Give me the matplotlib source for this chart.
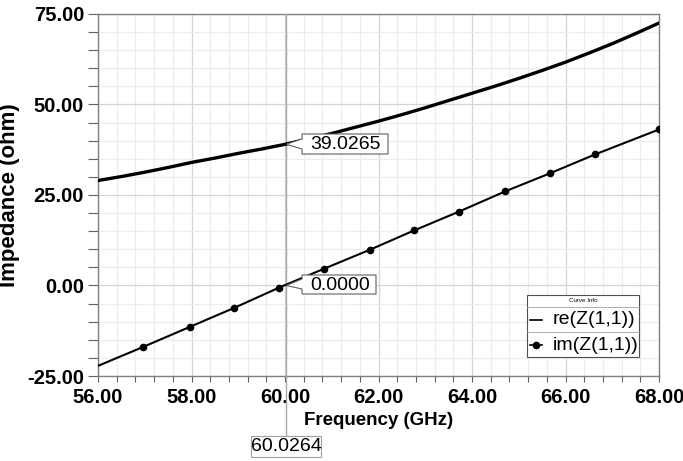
import matplotlib
matplotlib.use("Agg")
import matplotlib.pyplot as plt
from matplotlib.ticker import MultipleLocator, FormatStrFormatter
from matplotlib.patches import Polygon, Rectangle
from matplotlib.lines import Line2D

# Impedance sweep of port 1
freq_re = [56.0, 56.5, 57.0, 57.5, 58.0, 58.5, 59.0, 59.5, 60.0, 60.5, 61.0, 61.5, 62.0,
           62.5, 63.0, 63.5, 64.0, 64.5, 65.0, 65.5, 66.0, 66.5, 67.0, 67.5, 68.0]
re_z11 = [29.0, 30.1, 31.3, 32.6, 34.0, 35.2, 36.5, 37.7, 39.0, 40.5, 42.0, 43.7, 45.4,
          47.2, 49.1, 51.1, 53.1, 55.1, 57.2, 59.4, 61.7, 64.2, 66.8, 69.6, 72.5]

freq_im = [56.0, 56.96, 57.97, 58.91, 59.87, 60.83, 61.82, 62.76, 63.72, 64.71, 65.67, 66.63, 68.0]
im_z11 = [-22.2, -17.0, -11.4, -6.2, -0.6, 4.6, 9.9, 15.2, 20.4, 26.0, 31.0, 36.2, 43.1]

curve_names = ["re(Z(1,1))", "im(Z(1,1))"]

marker_freq = 60.0264
marker_re = 39.0265
marker_im = 0.0000

plt.rcParams["font.family"] = ["Liberation Sans", "DejaVu Sans"]

W, H = 683, 461
fig = plt.figure(figsize=(W / 100, H / 100), dpi=100)
ax = fig.add_axes([98 / W, 1 - 376 / H, 561 / W, 362 / H])


def fpos(x, y):
    """Figure fraction from pixel position measured from the top-left."""
    return x / W, 1 - y / H


ax.plot(freq_re, re_z11, color="black", lw=2.4, zorder=4)
ax.plot(freq_im, im_z11, color="black", lw=1.5, marker="o", ms=4.5,
        markevery=list(range(1, len(freq_im))), zorder=4)

ax.set_xlim(56, 68)
ax.set_ylim(-25, 75)
ax.xaxis.set_major_locator(MultipleLocator(2))
ax.xaxis.set_minor_locator(MultipleLocator(0.4))
ax.yaxis.set_major_locator(MultipleLocator(25))
ax.yaxis.set_minor_locator(MultipleLocator(5))
ax.xaxis.set_major_formatter(FormatStrFormatter("%.2f"))
ax.yaxis.set_major_formatter(FormatStrFormatter("%.2f"))

ax.grid(which="major", color="#d4d4d4", lw=0.9)
ax.grid(which="minor", color="#ececec", lw=0.8)
ax.set_axisbelow(True)

for s in ax.spines.values():
    s.set_color("#808080")
    s.set_linewidth(1.0)

ax.tick_params(axis="y", which="both", direction="out", length=7, width=0.8,
               color="#606060", labelsize=14.5, pad=3)
ax.tick_params(axis="x", which="both", direction="out", length=4.5, width=0.8,
               color="#606060", labelsize=14.5, pad=4)
for lab in ax.get_xticklabels() + ax.get_yticklabels():
    lab.set_fontweight("bold")

ax.set_xlabel("Frequency (GHz)", fontsize=13.5, fontweight="bold", labelpad=4)
ax.set_ylabel("Impedance (ohm)", fontsize=16, fontweight="bold", labelpad=5)

# marker line through the axes and down to its frequency readout
ax.axvline(marker_freq, color="#a8a8a8", lw=1.0, zorder=3)
ax.plot([marker_freq, marker_freq], [-25, -41.5], color="#a8a8a8", lw=1.0,
        clip_on=False, zorder=3)
bx0, by0 = fpos(251, 457)
fig.patches.append(Rectangle((bx0, by0), 70 / W, 21 / H, transform=fig.transFigure,
                             fc="white", ec="#a0a0a0", lw=0.8))
fig.text(*fpos(286, 446.5), f"{marker_freq:.4f}", fontsize=14, ha="center", va="center")


def callout(value, left, top, right, bottom, notch):
    """Value box with a pointed tab reaching to the marked point."""
    tip = fig.transFigure.inverted().transform(ax.transData.transform((marker_freq, value)))
    pts = [fpos(left, top), fpos(right, top), fpos(right, bottom), fpos(left, bottom),
           fpos(left, notch[1]), tuple(tip), fpos(left, notch[0])]
    fig.patches.append(Polygon(pts, closed=True, transform=fig.transFigure,
                               fc="white", ec="#606060", lw=0.8, zorder=6))
    fig.text(*fpos(left + 8, (top + bottom) / 2 + 0.5), f"{value:.4f}", fontsize=14,
             ha="left", va="center", zorder=7)


callout(marker_re, 302, 134, 388, 154, (139, 149))
callout(marker_im, 302, 275, 376, 294, (279, 289))

# curve info box
lx0, lx1, ly0, ly1 = 527, 639, 295, 357
fig.patches.append(Rectangle(fpos(lx0, ly1), (lx1 - lx0) / W, (ly1 - ly0) / H,
                             transform=fig.transFigure, fc="white", ec="#505050",
                             lw=0.8, zorder=6))
for yy in (307, 332):
    fig.lines.append(Line2D([lx0 / W, lx1 / W], [1 - yy / H] * 2, transform=fig.transFigure,
                            color="#a0a0a0", lw=0.6, zorder=7))
fig.text(*fpos((lx0 + lx1) / 2, 301), "Curve Info", fontsize=4.5, ha="center",
         va="center", zorder=7)
for i, name in enumerate(curve_names):
    yc = 320 + 25 * i
    fig.lines.append(Line2D([530 / W, 542 / W], [1 - yc / H] * 2, transform=fig.transFigure,
                            color="black", lw=1.2, zorder=7))
    if i == 1:
        fig.lines.append(Line2D([536 / W], [1 - yc / H], transform=fig.transFigure,
                                color="black", marker="o", ms=4.5, zorder=7))
    fig.text(*fpos(553, yc), name, fontsize=14, ha="left", va="center", zorder=7)

fig.savefig("out.png", dpi=100)
